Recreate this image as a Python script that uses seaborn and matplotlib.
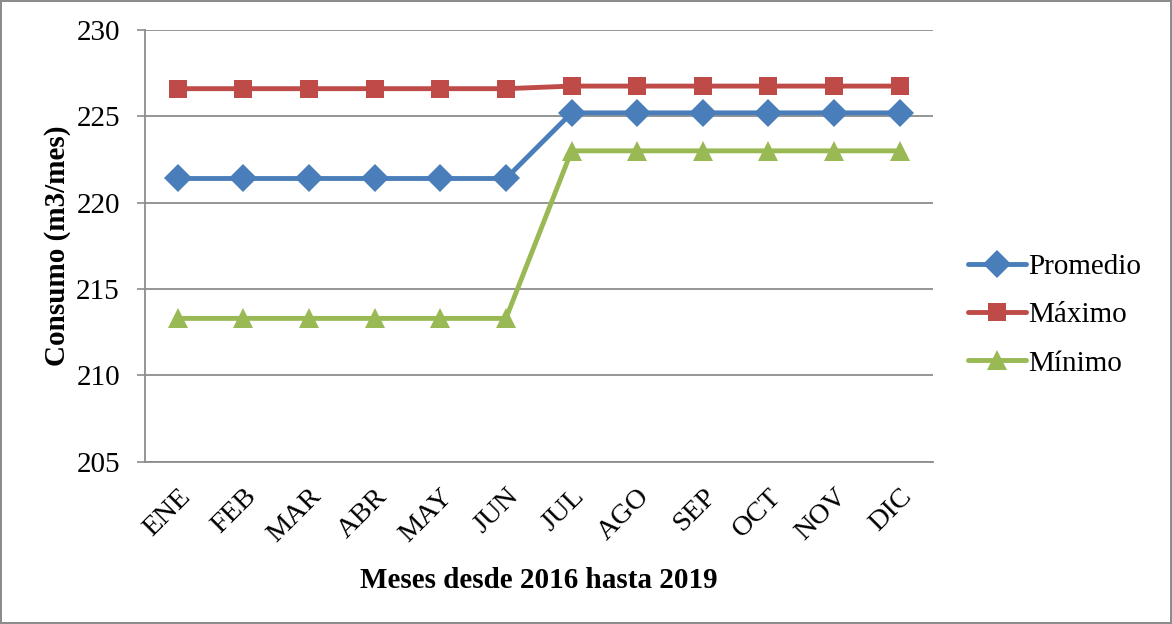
import pandas as pd
import numpy as np
import matplotlib
matplotlib.use("Agg")
import matplotlib.pyplot as plt
import seaborn as sns

# === datos
meses = ["ENE", "FEB", "MAR", "ABR", "MAY", "JUN", "JUL", "AGO", "SEP", "OCT", "NOV", "DIC"]
promedio = [221.4, 221.4, 221.4, 221.4, 221.4, 221.4, 225.2, 225.2, 225.2, 225.2, 225.2, 225.2]
maximo = [226.6, 226.6, 226.6, 226.6, 226.6, 226.6, 226.75, 226.75, 226.75, 226.75, 226.75, 226.75]
minimo = [213.3, 213.3, 213.3, 213.3, 213.3, 213.3, 223.0, 223.0, 223.0, 223.0, 223.0, 223.0]
series = ["Promedio", "Máximo", "Mínimo"]
colores = ["#4a7ebb", "#be4b48", "#98b954"]
marcadores = ["D", "s", "^"]
tam_marcador = [14, 12.5, 14.5]

df = pd.DataFrame({"MES": meses * 3,
                   "POS": list(range(len(meses))) * 3,
                   "VALOR": promedio + maximo + minimo,
                   "SERIE": [s for s in series for _ in meses]})

sns.set_style("white")
plt.rcParams["font.family"] = ["Liberation Serif", "DejaVu Serif"]
plt.rcParams["text.color"] = "black"
plt.rcParams["axes.labelcolor"] = "black"
plt.rcParams["xtick.labelcolor"] = "black"
plt.rcParams["ytick.labelcolor"] = "black"

fig = plt.figure(figsize=(11.72, 6.24), dpi=100, edgecolor="#8c8c8c", linewidth=1.5)
ax = fig.add_axes([0.1237, 0.260, 0.672, 0.692])

sns.lineplot(data=df, x="POS", y="VALOR", hue="SERIE", style="SERIE",
             hue_order=series, style_order=series, palette=colores,
             markers=dict(zip(series, marcadores)), dashes=False,
             linewidth=3.5, markersize=13, markeredgewidth=0, legend=False, ax=ax)

lineas = ax.lines[:len(series)]
for linea, tam in zip(lineas, tam_marcador):
    linea.set_markersize(tam)

ax.set_ylim(205, 230)
ax.set_yticks(np.arange(205, 231, 5))
ax.set_xlim(-0.5, len(meses) - 0.5)
ax.set_xticks(range(len(meses)))
ax.set_xticklabels(meses, rotation=45, ha="right", rotation_mode="anchor")
ax.tick_params(axis="x", length=0, labelsize=20.5, pad=16)
ax.tick_params(axis="y", length=6, width=1.2, color="#8c8c8c", labelsize=21, left=True, pad=12)
ax.grid(axis="y", color="#8c8c8c", linewidth=1.3)
ax.set_axisbelow(True)
for lado in ["top", "right"]:
    ax.spines[lado].set_visible(False)
for lado in ["left", "bottom"]:
    ax.spines[lado].set_color("#8c8c8c")
    ax.spines[lado].set_linewidth(1.3)

ax.set_xlabel("Meses desde 2016 hasta 2019", fontsize=21, fontweight="bold", labelpad=14)
ax.set_ylabel("Consumo (m3/mes)", fontsize=21, fontweight="bold", labelpad=4)

fig.legend(lineas, series, loc="center left", bbox_to_anchor=(968 / 1172, 0.495),
           frameon=False, fontsize=21, handlelength=2.0, handletextpad=0.05,
           labelspacing=0.75, borderaxespad=0, borderpad=0)

fig.savefig("out.png", dpi=100, edgecolor=fig.get_edgecolor())
